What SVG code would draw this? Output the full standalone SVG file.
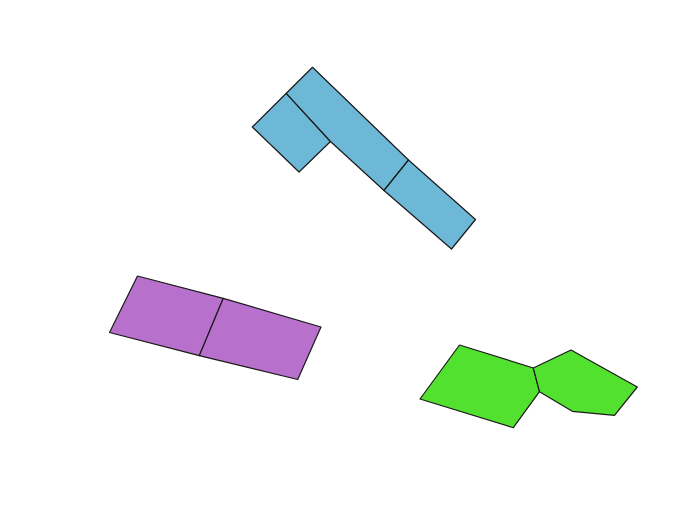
<svg xmlns="http://www.w3.org/2000/svg" width="697" height="526" viewBox="0 0 697 526">
<style>
.s{stroke:#1a1a1a;stroke-width:1.2;stroke-linejoin:round}
.b{fill:#6cb8d6}
.p{fill:#b870cd}
.g{fill:#52e12e}
</style>
<rect width="697" height="526" fill="#ffffff"/>
<g id="blue">
<polygon class="s b" points="286.3,93.3 330.5,141.5 299,172 252.3,127"/>
<polygon class="s b" points="312.5,67.3 408.5,160 384,190.5 330.5,141.5 286.3,93.3"/>
<polygon class="s b" points="408.5,160 475.5,219.5 451.5,249 384,190.5"/>
</g>
<g id="purple">
<polygon class="s p" points="137.5,276 223.3,298.3 199.3,355.7 109.5,332.5"/>
<polygon class="s p" points="223.3,298.3 321,327 297.7,379.5 199.3,355.7"/>
</g>
<g id="green">
<polygon class="s g" points="459.5,345 533.3,368 539.5,391.7 513.3,427.7 420,399"/>
<polygon class="s g" points="533.3,368 571,350 637.3,387 614.5,415.3 572.3,411.3 539.5,391.7"/>
</g>
</svg>
